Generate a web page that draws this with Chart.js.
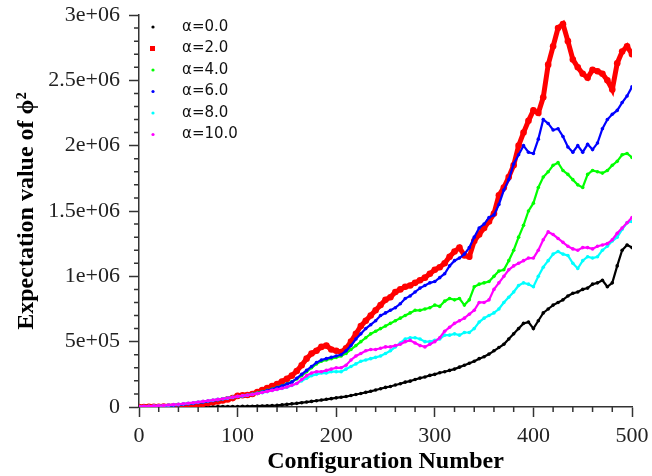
<!DOCTYPE html>
<html>
<head>
<meta charset="utf-8">
<script src="https://cdn.jsdelivr.net/npm/chart.js@4.4.1/dist/chart.umd.min.js"></script>
<style>
  html, body { margin: 0; padding: 0; background: #fff; }
</style>
</head>
<body>
<canvas id="chart" width="652" height="476"></canvas>
<script>
// configuration numbers (sampled every 5)
const configs = [
  0, 5, 10, 15, 20, 25, 30, 35, 40, 45, 50, 55, 60, 65, 70, 75, 80, 85, 90, 95,
  100, 105, 110, 115, 120, 125, 130, 135, 140, 145, 150, 155, 160, 165, 170, 175, 180, 185, 190, 195,
  200, 205, 210, 215, 220, 225, 230, 235, 240, 245, 250, 255, 260, 265, 270, 275, 280, 285, 290, 295,
  300, 305, 310, 315, 320, 325, 330, 335, 340, 345, 350, 355, 360, 365, 370, 375, 380, 385, 390, 395,
  400, 405, 410, 415, 420, 425, 430, 435, 440, 445, 450, 455, 460, 465, 470, 475, 480, 485, 490, 495,
  500
];

// expectation value of phi^2, in units of 1e6
const alpha0 = [
  0, 0, 0, 0, 0, 0, 0, 0, 0.001, 0.001,
  0.001, 0.001, 0.002, 0.002, 0.002, 0.002, 0.003, 0.003, 0.003, 0.004,
  0.004, 0.005, 0.005, 0.006, 0.007, 0.008, 0.009, 0.011, 0.013, 0.016,
  0.02, 0.024, 0.028, 0.033, 0.038, 0.043, 0.048, 0.053, 0.059, 0.064,
  0.07, 0.075, 0.08, 0.088, 0.096, 0.103, 0.112, 0.12, 0.13, 0.14,
  0.15, 0.157, 0.168, 0.178, 0.19, 0.198, 0.21, 0.221, 0.23, 0.242,
  0.25, 0.262, 0.27, 0.28, 0.29, 0.305, 0.32, 0.335, 0.35, 0.37,
  0.385, 0.405, 0.43, 0.455, 0.48, 0.52, 0.56, 0.6, 0.64, 0.65,
  0.6, 0.66, 0.72, 0.75, 0.78, 0.8, 0.82, 0.85, 0.87, 0.88,
  0.9, 0.91, 0.94, 0.95, 0.97, 0.92, 0.95, 1.08, 1.2, 1.24,
  1.22
];
const alpha2 = [
  0, 0, 0.001, 0.001, 0.002, 0.003, 0.004, 0.005, 0.007, 0.009,
  0.012, 0.015, 0.02, 0.025, 0.03, 0.036, 0.043, 0.05, 0.058, 0.068,
  0.085, 0.09, 0.092, 0.1, 0.115, 0.13, 0.145, 0.16, 0.175, 0.195,
  0.215, 0.24, 0.275, 0.32, 0.37, 0.41, 0.43, 0.46, 0.47, 0.44,
  0.43, 0.42, 0.45, 0.5, 0.56, 0.62, 0.66, 0.7, 0.74, 0.78,
  0.82, 0.84, 0.88, 0.9, 0.92, 0.93, 0.95, 0.97, 0.99, 1.02,
  1.05, 1.07, 1.1, 1.15, 1.19, 1.22, 1.16, 1.15, 1.27, 1.32,
  1.37, 1.42, 1.48, 1.62, 1.68, 1.76, 1.85, 2.0, 2.1, 2.19,
  2.27, 2.25, 2.37, 2.62, 2.76, 2.9, 2.93, 2.8, 2.66, 2.6,
  2.55, 2.52, 2.58, 2.57, 2.55, 2.5, 2.43, 2.63, 2.72, 2.76,
  2.7
];
const alpha4 = [
  0.002, 0.003, 0.004, 0.005, 0.007, 0.009, 0.011, 0.014, 0.017, 0.021,
  0.025, 0.029, 0.034, 0.039, 0.044, 0.05, 0.056, 0.062, 0.068, 0.074,
  0.08, 0.086, 0.092, 0.099, 0.108, 0.118, 0.128, 0.138, 0.15, 0.163,
  0.178, 0.194, 0.215, 0.24, 0.27, 0.3, 0.33, 0.35, 0.36, 0.37,
  0.38, 0.39, 0.41, 0.44, 0.47, 0.5, 0.53, 0.56, 0.58, 0.6,
  0.62, 0.64, 0.66, 0.68, 0.7, 0.72, 0.74, 0.74, 0.75, 0.76,
  0.78, 0.77, 0.81, 0.83, 0.82, 0.83, 0.78, 0.82, 0.92, 0.94,
  0.95, 0.96, 1.0, 1.04, 1.05, 1.12, 1.2, 1.3, 1.39, 1.5,
  1.56, 1.68, 1.76, 1.8, 1.85, 1.87, 1.81, 1.78, 1.74, 1.7,
  1.68, 1.78, 1.81, 1.8, 1.79, 1.81, 1.85, 1.88, 1.93, 1.94,
  1.91
];
const alpha6 = [
  0.002, 0.003, 0.004, 0.005, 0.006, 0.008, 0.01, 0.013, 0.016, 0.02,
  0.024, 0.028, 0.033, 0.038, 0.043, 0.049, 0.055, 0.061, 0.067, 0.073,
  0.08, 0.085, 0.09, 0.097, 0.105, 0.115, 0.125, 0.135, 0.148, 0.16,
  0.175, 0.19, 0.22, 0.25, 0.28, 0.31, 0.34, 0.36, 0.37, 0.38,
  0.39, 0.4, 0.43, 0.47, 0.52, 0.56, 0.6, 0.63, 0.66, 0.7,
  0.72, 0.74, 0.76, 0.79, 0.83, 0.85, 0.88, 0.91, 0.93, 0.95,
  0.96, 0.99, 1.02, 1.08, 1.12, 1.14, 1.17, 1.22, 1.3, 1.37,
  1.4, 1.45, 1.47, 1.55, 1.66, 1.74, 1.86, 1.93, 2.0, 1.95,
  1.94, 2.05, 2.2, 2.17, 2.12, 2.13, 2.07, 1.99, 1.95, 2.0,
  1.95, 2.01, 1.97, 2.02, 2.13, 2.2, 2.24, 2.27, 2.33, 2.38,
  2.45
];
const alpha8 = [
  0.003, 0.004, 0.005, 0.007, 0.009, 0.011, 0.014, 0.017, 0.02, 0.024,
  0.028, 0.032, 0.037, 0.042, 0.047, 0.052, 0.058, 0.063, 0.068, 0.074,
  0.08, 0.085, 0.09, 0.096, 0.103, 0.11, 0.118, 0.126, 0.134, 0.142,
  0.152, 0.165, 0.18, 0.2, 0.22, 0.24, 0.25, 0.26, 0.26, 0.27,
  0.27, 0.27, 0.29, 0.31, 0.33, 0.35, 0.36, 0.37, 0.38, 0.39,
  0.41, 0.43, 0.46, 0.49, 0.52, 0.53, 0.53, 0.52, 0.5, 0.5,
  0.51, 0.52, 0.55, 0.55, 0.56, 0.55, 0.57, 0.57, 0.6, 0.65,
  0.68, 0.7, 0.72, 0.75, 0.8, 0.84, 0.88, 0.93, 0.95, 0.94,
  0.92, 1.0, 1.07, 1.12, 1.17, 1.19, 1.17, 1.16, 1.1, 1.06,
  1.12, 1.15, 1.14, 1.15, 1.2, 1.23, 1.27, 1.3, 1.36, 1.41,
  1.42
];
const alpha10 = [
  0.004, 0.005, 0.006, 0.008, 0.01, 0.012, 0.015, 0.018, 0.021, 0.025,
  0.029, 0.033, 0.038, 0.043, 0.048, 0.053, 0.058, 0.063, 0.069, 0.075,
  0.081, 0.086, 0.091, 0.097, 0.104, 0.111, 0.119, 0.127, 0.135, 0.143,
  0.153, 0.166, 0.18, 0.21, 0.24, 0.26, 0.27, 0.27, 0.28, 0.29,
  0.3, 0.3, 0.32, 0.36, 0.39, 0.41, 0.43, 0.44, 0.44, 0.45,
  0.46, 0.46, 0.47, 0.48, 0.5, 0.51, 0.49, 0.47, 0.46, 0.48,
  0.5, 0.53, 0.58, 0.61, 0.64, 0.66, 0.68, 0.71, 0.74, 0.8,
  0.8, 0.82, 0.9, 0.95, 1.0, 1.05, 1.08, 1.1, 1.12, 1.14,
  1.14, 1.2, 1.28, 1.34, 1.32, 1.29, 1.26, 1.23, 1.21, 1.2,
  1.22, 1.22, 1.21, 1.23, 1.24, 1.25, 1.28, 1.33, 1.37, 1.41,
  1.45
];

const labels = ['α=0.0', 'α=2.0', 'α=4.0', 'α=6.0', 'α=8.0', 'α=10.0'];
const colors = ['#000000', '#ff0000', '#00ff00', '#0000ff', '#00ffff', '#ff00ff'];
const values = [alpha0, alpha2, alpha4, alpha6, alpha8, alpha10];
const radii = [1.8, 3.3, 1.8, 1.8, 1.8, 1.8];
const widths = [2.2, 5, 2.2, 2.2, 2.2, 2.2];

const serif = '"Liberation Serif", "Times New Roman", serif';

// "5e+05" style labels, like gnuplot
function sciLabel(v) {
  if (Math.abs(v) < 1e-9) return '0';
  const s = (Math.round(v * 10) * 1e5).toExponential();
  const parts = s.split('e');
  const exp = parts[1];
  return parts[0] + 'e' + exp[0] + exp.slice(1).padStart(2, '0');
}

// minor ticks and the legend inside the plot
const extras = {
  id: 'extras',
  afterDraw(chart) {
    const ctx = chart.ctx;
    const x = chart.scales.x;
    const y = chart.scales.y;
    const area = chart.chartArea;
    ctx.save();
    ctx.strokeStyle = '#333';
    ctx.lineWidth = 1.5;
    ctx.beginPath();
    for (let v = 20; v < 500; v += 20) {
      if (v % 100 === 0) continue;
      const px = x.getPixelForValue(v);
      ctx.moveTo(px, area.bottom);
      ctx.lineTo(px, area.bottom + 5);
    }
    for (let k = 1; k < 30; k++) {
      if (k % 5 === 0) continue;
      const py = y.getPixelForValue(k / 10);
      ctx.moveTo(area.left, py);
      ctx.lineTo(area.left - 5, py);
    }
    ctx.stroke();

    ctx.font = '15px "DejaVu Sans", sans-serif';
    ctx.textBaseline = 'middle';
    ctx.textAlign = 'left';
    labels.forEach((lab, i) => {
      const cy = area.top + 12 + i * 21.5;
      ctx.fillStyle = colors[i];
      if (i === 1) {
        ctx.fillRect(area.left + 11, cy - 2.5, 5, 5);
      } else {
        ctx.beginPath();
        ctx.arc(area.left + 14, cy, 1.6, 0, Math.PI * 2);
        ctx.fill();
      }
      ctx.fillStyle = '#111';
      ctx.fillText(lab, area.left + 43, cy);
    });
    ctx.restore();
  }
};

const datasets = values.map((arr, i) => ({
  label: labels[i],
  data: configs.map((c, j) => ({ x: c, y: arr[j] })),
  showLine: true,
  borderWidth: widths[i],
  borderColor: colors[i],
  pointRadius: radii[i],
  pointHoverRadius: radii[i],
  pointBorderWidth: 0,
  pointBackgroundColor: colors[i],
  backgroundColor: colors[i],
  order: 6 - i
}));

const ctx = document.getElementById('chart').getContext('2d');
new Chart(ctx, {
  type: 'scatter',
  data: { datasets: datasets },
  options: {
    responsive: false,
    animation: false,
    layout: { padding: { top: 15, right: 20, left: 0, bottom: 0 } },
    plugins: {
      legend: { display: false },
      tooltip: { enabled: false }
    },
    scales: {
      x: {
        type: 'linear',
        position: 'bottom',
        min: 0,
        max: 500,
        afterFit: (scale) => {
          scale.height = 69;
          scale.paddingLeft = 0;
          scale.paddingRight = 0;
        },
        ticks: {
          stepSize: 100,
          color: '#222',
          padding: 6,
          font: { family: serif, size: 22 }
        },
        grid: {
          drawOnChartArea: false,
          tickLength: 10,
          tickColor: '#333',
          tickWidth: 1.5
        },
        border: { color: '#333', width: 1.5 },
        title: {
          display: true,
          text: 'Configuration Number',
          color: '#000',
          font: { family: serif, size: 24, weight: 'bold' },
          padding: { top: 4, bottom: 0 }
        }
      },
      y: {
        type: 'linear',
        min: 0,
        max: 3,
        afterFit: (scale) => {
          scale.width = 139;
          scale.paddingTop = 0;
          scale.paddingBottom = 0;
        },
        ticks: {
          stepSize: 0.5,
          color: '#222',
          padding: 9,
          font: { family: serif, size: 22 },
          callback: (v) => sciLabel(v)
        },
        grid: {
          drawOnChartArea: false,
          tickLength: 10,
          tickColor: '#333',
          tickWidth: 1.5
        },
        border: { color: '#333', width: 1.5 },
        title: {
          display: true,
          text: 'Expectation value of ϕ²',
          color: '#000',
          font: { family: serif, size: 24, weight: 'bold' },
          padding: { top: 12, bottom: 0 }
        }
      }
    }
  },
  plugins: [extras]
});
</script>
</body>
</html>
